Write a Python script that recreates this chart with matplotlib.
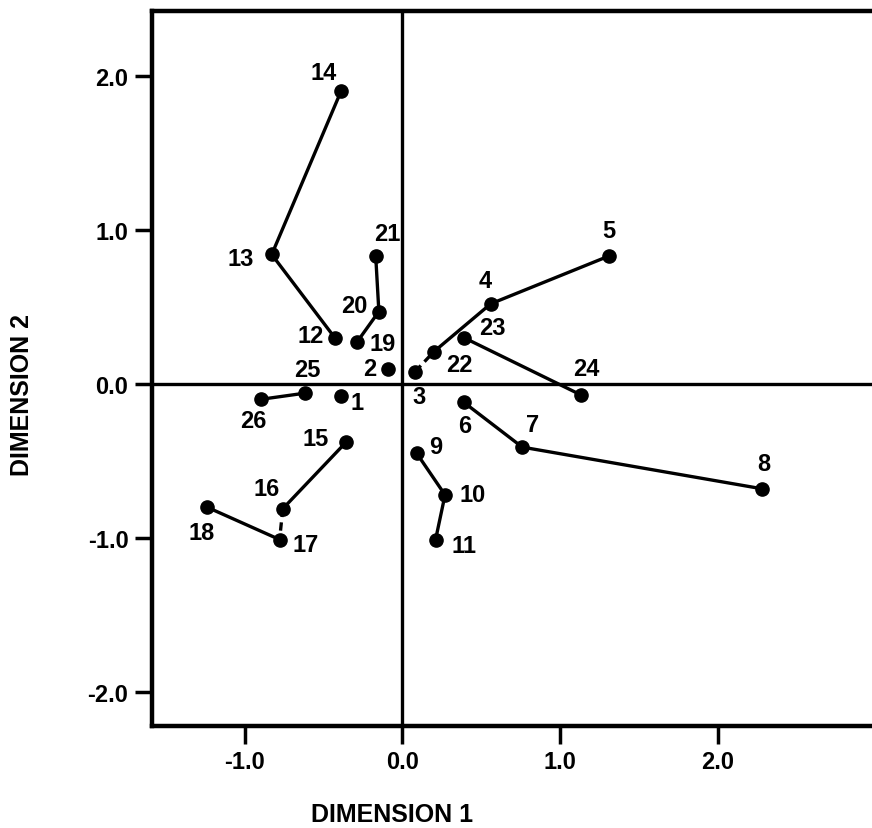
import matplotlib
matplotlib.use("Agg")
import matplotlib.pyplot as plt

# ---- data ----
ids = list(range(1, 27))
dim1 = [-0.39, -0.09, 0.08, 0.56, 1.31, 0.39, 0.76, 2.28, 0.09, 0.27,
        0.21, -0.43, -0.83, -0.39, -0.36, -0.76, -0.78, -1.24, -0.29, -0.15,
        -0.17, 0.20, 0.39, 1.13, -0.62, -0.90]
dim2 = [-0.08, 0.10, 0.08, 0.52, 0.83, -0.12, -0.41, -0.68, -0.45, -0.72,
        -1.01, 0.30, 0.84, 1.90, -0.38, -0.81, -1.01, -0.80, 0.27, 0.47,
        0.83, 0.21, 0.30, -0.07, -0.06, -0.10]
links_solid = [(13, 14), (13, 12), (21, 20), (20, 19), (22, 4), (4, 5),
               (23, 24), (25, 26), (6, 7), (7, 8), (9, 10), (10, 11),
               (15, 16), (17, 18)]
links_dashed = [(3, 22), (16, 17)]
xticks = [-1.0, 0.0, 1.0, 2.0]
yticks = [-2.0, -1.0, 0.0, 1.0, 2.0]
xlabel = "DIMENSION 1"
ylabel = "DIMENSION 2"

# ---- label offsets (pixels; x right, y up) ----
label_off = {
    1: (16, -6), 2: (-19, 0), 3: (4, -25), 4: (-6, 23), 5: (0, 26),
    6: (1, -23), 7: (10, 23), 8: (2, 25), 9: (19, 7), 10: (28, 0),
    11: (28, -6), 12: (-24, 2), 13: (-31, -4), 14: (-17, 19), 15: (-30, 4),
    16: (-16, 20), 17: (26, -5), 18: (-6, -25), 19: (26, -1), 20: (-25, 6),
    21: (12, 23), 22: (25, -13), 23: (28, 10), 24: (6, 26), 25: (2, 24),
    26: (-7, -21),
}

FONT = "Liberation Sans"
plt.rcParams['font.family'] = [FONT, 'DejaVu Sans']

fig = plt.figure(figsize=(8.72, 8.29), dpi=100)
ax = fig.add_axes([0.1743, 0.123, 1.0 - 0.1743, 0.9855 - 0.123])

pos = {i: (x, y) for i, x, y in zip(ids, dim1, dim2)}

ax.axhline(0, color="black", lw=2.4, zorder=1)
ax.axvline(0, color="black", lw=2.4, zorder=1)

for a, b in links_solid:
    ax.plot([pos[a][0], pos[b][0]], [pos[a][1], pos[b][1]],
            color="black", lw=2.4, solid_capstyle="butt", zorder=2)
for a, b in links_dashed:
    ax.plot([pos[a][0], pos[b][0]], [pos[a][1], pos[b][1]],
            color="black", lw=2.4, dashes=(2.5, 1.6), zorder=2)

ax.plot(dim1, dim2, "o", color="black", ms=9.5, zorder=3, ls="none")

for i in ids:
    dx, dy = label_off[i]
    ax.annotate(str(i), pos[i], xytext=(dx, dy), textcoords="offset pixels",
                ha="center", va="center", fontsize=17, fontweight="bold",
                family=FONT)

ax.set_xlim(-1.59, 2.98)
ax.set_ylim(-2.22, 2.42)
ax.set_xticks(xticks)
ax.set_xticklabels([f"{v:.1f}" for v in xticks])
ax.set_yticks(yticks)
ax.set_yticklabels([f"{v:.1f}" for v in yticks])
for lab in ax.get_xticklabels() + ax.get_yticklabels():
    lab.set_fontweight("bold")
    lab.set_fontsize(17)

ax.tick_params(axis="both", direction="out", width=2.5, color="black")
ax.tick_params(axis="x", length=13, pad=4)
ax.tick_params(axis="y", length=12, pad=5)

for s in ["left", "top", "bottom"]:
    ax.spines[s].set_linewidth(3.2)
ax.spines["right"].set_visible(False)

fig.text(392 / 872, 1 - 815 / 829, xlabel, ha="center", va="center",
         fontsize=18, fontweight="bold")
fig.text(22 / 872, 1 - 395 / 829, ylabel, ha="center", va="center",
         rotation=90, fontsize=18, fontweight="bold")

fig.savefig("out.png", dpi=100)
